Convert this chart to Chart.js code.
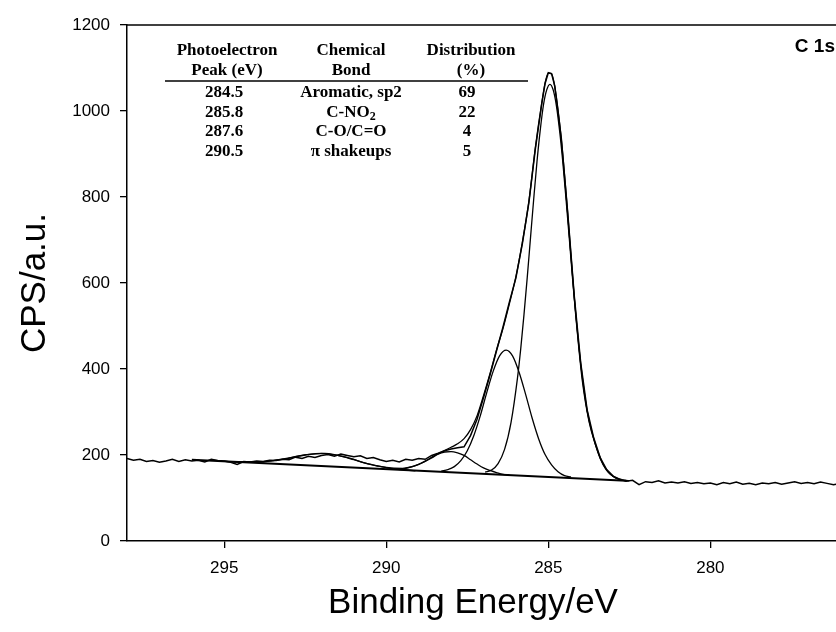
<!DOCTYPE html>
<html>
<head>
<meta charset="utf-8">
<script src="https://cdn.jsdelivr.net/npm/chart.js@4.4.1/dist/chart.umd.min.js"></script>
<style>
    html, body { margin: 0; padding: 0; background: #fff; overflow: hidden; }
    #wrap { width: 836px; height: 632px; overflow: hidden; position: relative; }
    #wrap canvas { position: absolute; left: 0; top: 0; }
</style>
</head>
<body>
<div id="wrap"><canvas id="chartC1s" width="850" height="632"></canvas></div>
<script>

    // DATA

    // measured spectrum
    var rawEnergy = [298.0, 297.8, 297.6, 297.4, 297.2, 297.0, 296.8, 296.6, 296.4, 296.2,
        296.0, 295.8, 295.6, 295.4, 295.2, 295.0, 294.8, 294.6, 294.4, 294.2,
        294.0, 293.8, 293.6, 293.4, 293.2, 293.0, 292.8, 292.6, 292.4, 292.2,
        292.0, 291.8, 291.6, 291.4, 291.2, 291.0, 290.8, 290.6, 290.4, 290.2,
        290.0, 289.8, 289.6, 289.4, 289.2, 289.0, 288.8, 288.6, 288.4, 288.2,
        288.0, 287.8, 287.6, 287.4, 287.2, 287.0, 286.8, 286.6, 286.4, 286.2,
        286.0, 285.8, 285.6, 285.4, 285.2, 285.1, 285.0, 284.9, 284.8, 284.6,
        284.4, 284.2, 284.0, 283.8, 283.6, 283.4, 283.2, 283.0, 282.8, 282.6,
        282.4, 282.2, 282.0, 281.8, 281.6, 281.4, 281.2, 281.0, 280.8, 280.6,
        280.4, 280.2, 280.0, 279.8, 279.6, 279.4, 279.2, 279.0, 278.8, 278.6,
        278.4, 278.2, 278.0, 277.8, 277.6, 277.4, 277.2, 277.0, 276.8, 276.6,
        276.4, 276.2, 276.0];
    var rawCps = [192, 188, 190, 185, 187, 183, 186, 190, 185, 189,
        186, 188, 184, 190, 187, 186, 183, 178, 185, 184,
        186, 185, 188, 187, 190, 189, 195, 192, 197, 194,
        199, 201, 197, 202, 199, 196, 198, 192, 194, 189,
        185, 188, 184, 190, 188, 192, 190, 199, 204, 210,
        214, 217, 219, 245, 283, 333, 386, 442, 497, 556,
        612, 692, 787, 912, 1018, 1064, 1089, 1087, 1058, 937,
        762, 570, 414, 304, 240, 194, 166, 151, 144, 139,
        141, 131, 138, 136, 140, 135, 137, 135, 138, 134,
        136, 133, 135, 131, 136, 133, 137, 132, 134, 131,
        135, 133, 136, 132, 135, 138, 134, 136, 133, 137,
        134, 131, 134];

    // fitted envelope
    var envEnergy = [295.0, 294.5, 294.0, 293.5, 293.0, 292.5, 292.0, 291.5, 291.0, 290.5,
        290.0, 289.5, 289.0, 288.5, 288.0, 287.8, 287.6, 287.4, 287.2, 287.0,
        286.8, 286.6, 286.4, 286.2, 286.0, 285.8, 285.6, 285.4, 285.2, 285.1,
        285.0, 284.9, 284.8, 284.6, 284.4, 284.2, 284.0, 283.8, 283.6, 283.4,
        283.2, 283.0, 282.8, 282.5];
    var envCps = [185, 184, 184, 187, 193, 200, 204, 199, 189, 178,
        171, 169, 178, 199, 218, 226, 238, 259, 291, 338,
        389, 444, 494, 552, 615, 695, 790, 915, 1020, 1065,
        1088, 1086, 1056, 935, 760, 568, 412, 302, 238, 192,
        164, 150, 143, 140];

    // linear background
    var bgEnergy = [296.0, 282.6];
    var bgCps = [189, 140];

    // component peaks (background included)
    var peak1Energy = [286.95, 286.75, 286.55, 286.35, 286.15, 285.95, 285.85, 285.75, 285.65, 285.55,
        285.45, 285.35, 285.25, 285.15, 285.05, 284.95, 284.85, 284.75, 284.65, 284.55,
        284.45, 284.35, 284.25, 284.15, 284.05, 283.95, 283.75, 283.55, 283.35, 283.15,
        282.95, 282.75];
    var peak1Cps = [160, 165, 180, 213, 276, 380, 448, 527, 613, 705,
        796, 882, 955, 1014, 1049, 1062, 1049, 1012, 953, 879,
        792, 701, 608, 521, 442, 372, 280, 225, 185, 160,
        148, 142];

    var peak2Energy = [288.3, 288.1, 287.9, 287.7, 287.5, 287.3, 287.1, 286.9, 286.7, 286.5,
        286.3, 286.1, 285.9, 285.7, 285.5, 285.3, 285.1, 284.9, 284.7, 284.5, 284.3];
    var peak2Cps = [163, 166, 173, 187, 210, 245, 291, 345, 395, 431,
        444, 430, 392, 341, 286, 238, 201, 177, 161, 152, 149];

    var peak3Energy = [290.0, 289.8, 289.6, 289.4, 289.2, 289.0, 288.8, 288.6, 288.4, 288.2,
        288.0, 287.8, 287.6, 287.4, 287.2, 287.0, 286.8, 286.6, 286.4, 286.2];
    var peak3Cps = [167, 167, 167, 169, 173, 178, 185, 193, 202, 207,
        208, 205, 199, 189, 179, 170, 164, 159, 155, 154];

    var peak4Energy = [294.7, 294.3, 293.9, 293.5, 293.1, 292.7, 292.3, 291.9, 291.5, 291.1,
        290.7, 290.3, 289.9, 289.5, 289.1];
    var peak4Cps = [184, 184, 184, 187, 191, 198, 202, 204, 199, 192,
        182, 175, 169, 166, 163];

    // ticks
    var xTickValues = [295, 290, 285, 280];
    var yTickValues = [0, 200, 400, 600, 800, 1000, 1200];

    // inset table
    var tableHead1 = ['Photoelectron', 'Chemical', 'Distribution'];
    var tableHead2 = ['Peak (eV)', 'Bond', '(%)'];
    var tablePeaks = ['284.5', '285.8', '287.6', '290.5'];
    var tableBonds = ['Aromatic, sp2', 'C-NO\u2082', 'C-O/C=O', '\u03c0 shakeups'];
    var tableShares = ['69', '22', '4', '5'];

    var panelLabel = 'C 1s';
    var xTitle = 'Binding Energy/eV';
    var yTitle = 'CPS/a.u.';


    // HELPERS

    function toPoints(xs, ys) {
        return xs.map(function (x, i) { return { x: x, y: ys[i] }; });
    }

    function lineSet(xs, ys, width, smooth) {
        return {
            data: toPoints(xs, ys),
            showLine: true,
            borderColor: '#000',
            borderWidth: width,
            pointRadius: 0,
            fill: false,
            cubicInterpolationMode: smooth ? 'monotone' : 'default',
            tension: 0
        };
    }

    var tableFont = 'bold 17px "Liberation Serif", "Times New Roman", serif';
    var subFont = 'bold 12px "Liberation Serif", "Times New Roman", serif';

    // draws text, the unicode subscript two is drawn smaller and lower
    function drawCentered(ctx, text, x, y) {
        var pos = text.indexOf('\u2082');
        if (pos < 0) {
            ctx.fillText(text, x, y);
            return;
        }
        var main = text.substring(0, pos);
        var w1 = ctx.measureText(main).width;
        ctx.font = subFont;
        var w2 = ctx.measureText('2').width;
        ctx.font = tableFont;
        var left = x - (w1 + w2) / 2;
        ctx.textAlign = 'left';
        ctx.fillText(main, left, y);
        ctx.font = subFont;
        ctx.fillText('2', left + w1, y + 4);
        ctx.font = tableFont;
        ctx.textAlign = 'center';
    }

    var decorPlugin = {
        id: 'decor',
        afterDraw: function (chart) {
            var ctx = chart.ctx;
            var area = chart.chartArea;
            ctx.save();
            ctx.fillStyle = '#000';
            ctx.strokeStyle = '#000';

            // top frame line
            ctx.lineWidth = 1.5;
            ctx.beginPath();
            ctx.moveTo(area.left, area.top);
            ctx.lineTo(area.right, area.top);
            ctx.stroke();

            // axis titles
            ctx.font = '35px "Liberation Sans", Arial, sans-serif';
            ctx.textAlign = 'center';
            ctx.textBaseline = 'middle';
            ctx.fillText(xTitle, 473, 603);
            ctx.save();
            ctx.translate(35, 283);
            ctx.rotate(-Math.PI / 2);
            ctx.fillText(yTitle, 0, 0);
            ctx.restore();

            // panel label
            ctx.font = 'bold 19px "Liberation Sans", Arial, sans-serif';
            ctx.textAlign = 'right';
            ctx.fillText(panelLabel, 835, 47);

            // table
            var colX = [227, 351, 471];
            var rowY = [93, 112.5, 132, 151.5];
            ctx.font = tableFont;
            ctx.textAlign = 'center';
            for (var c = 0; c < 3; c++) {
                ctx.fillText(tableHead1[c], colX[c], 51);
                ctx.fillText(tableHead2[c], colX[c], 71);
            }
            ctx.lineWidth = 1.5;
            ctx.beginPath();
            ctx.moveTo(165, 81);
            ctx.lineTo(528, 81);
            ctx.stroke();
            for (var r = 0; r < tablePeaks.length; r++) {
                ctx.fillText(tablePeaks[r], colX[0] - 3, rowY[r]);
                drawCentered(ctx, tableBonds[r], colX[1], rowY[r]);
                ctx.fillText(tableShares[r], colX[2] - 4, rowY[r]);
            }
            ctx.restore();
        }
    };


    // PLOTCHART

    var tickFont = { family: '"Liberation Sans", Arial, sans-serif', size: 17 };

    function plainLabel(value) {
        return String(value);
    }

    new Chart(document.getElementById('chartC1s'), {
        type: 'scatter',
        data: {
            datasets: [
                lineSet(bgEnergy, bgCps, 2, false),
                lineSet(peak4Energy, peak4Cps, 1.3, true),
                lineSet(peak3Energy, peak3Cps, 1.3, true),
                lineSet(peak2Energy, peak2Cps, 1.3, true),
                lineSet(peak1Energy, peak1Cps, 1.3, true),
                lineSet(envEnergy, envCps, 1.3, true),
                lineSet(rawEnergy, rawCps, 1.5, false)
            ]
        },
        options: {
            responsive: false,
            animation: false,
            devicePixelRatio: 1,
            layout: { padding: { left: 0, right: 10, top: 25, bottom: 0 } },
            plugins: {
                legend: { display: false },
                tooltip: { enabled: false }
            },
            scales: {
                x: {
                    type: 'linear',
                    reverse: true,
                    min: 276,
                    max: 298,
                    afterBuildTicks: function (scale) {
                        scale.ticks = xTickValues.map(function (v) { return { value: v }; });
                    },
                    afterFit: function (scale) { scale.height = 91; },
                    ticks: { color: '#000', font: tickFont, padding: 10, maxRotation: 0, callback: plainLabel },
                    grid: { drawOnChartArea: false, drawTicks: true, tickLength: 7, color: '#000', lineWidth: 1.3 },
                    border: { display: true, color: '#000', width: 1.5 }
                },
                y: {
                    min: 0,
                    max: 1200,
                    afterBuildTicks: function (scale) {
                        scale.ticks = yTickValues.map(function (v) { return { value: v }; });
                    },
                    afterFit: function (scale) { scale.width = 127; },
                    ticks: { color: '#000', font: tickFont, padding: 10, callback: plainLabel },
                    grid: { drawOnChartArea: false, drawTicks: true, tickLength: 7, color: '#000', lineWidth: 1.3 },
                    border: { display: true, color: '#000', width: 1.5 }
                }
            }
        },
        plugins: [decorPlugin]
    });
</script>
</body>
</html>
